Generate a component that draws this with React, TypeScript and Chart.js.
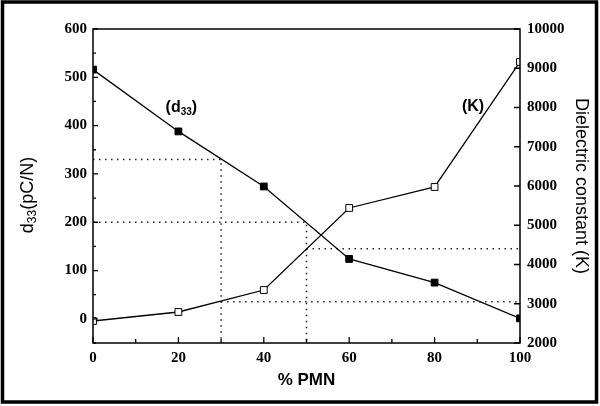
import { useEffect, useRef } from "react";
import { Chart, ChartConfiguration, Plugin, registerables } from "chart.js";

Chart.register(...registerables);

// % PMN composition
const pmn = [0, 20, 40, 60, 80, 100];
// d33 in pC/N (filled squares, left axis)
const d33 = [516, 388, 274, 124, 75, 1];
// dielectric constant K (open squares, right axis)
const dielectric = [2560, 2790, 3350, 5440, 5975, 9160];

// dotted read-off guides at 30 and 50 % PMN
const guidePmn = [30, 50];
const guideD33 = [330, 200];
const guideK = [3050, 4400];

const xTickLabels = [0, 20, 40, 60, 80, 100];
const leftTickLabels = [0, 100, 200, 300, 400, 500, 600];
const rightTickLabels = [2000, 3000, 4000, 5000, 6000, 7000, 8000, 9000, 10000];

const serif = "'Liberation Serif', 'Times New Roman', serif";
const sans = "'Liberation Sans', Arial, sans-serif";

type Part = { t: string; sub?: boolean };

function drawParts(
  ctx: CanvasRenderingContext2D,
  parts: Part[],
  font: string,
  subFont: string,
  drop: number
) {
  let w = 0;
  parts.forEach(p => {
    ctx.font = p.sub ? subFont : font;
    w += ctx.measureText(p.t).width;
  });
  let x = -w / 2;
  ctx.textAlign = "left";
  ctx.textBaseline = "middle";
  parts.forEach(p => {
    ctx.font = p.sub ? subFont : font;
    ctx.fillText(p.t, x, p.sub ? drop : 0);
    x += ctx.measureText(p.t).width;
  });
}

const framePlugin: Plugin = {
  id: "frame",
  afterDraw(chart) {
    const { ctx, chartArea: a, scales } = chart;
    const x = scales.x;
    const y = scales.y;
    const y1 = scales.y1;
    ctx.save();
    ctx.strokeStyle = "#000";
    ctx.fillStyle = "#000";

    // plot box
    ctx.lineWidth = 1.5;
    ctx.strokeRect(a.left, a.top, a.right - a.left, a.bottom - a.top);

    // inward tick marks
    ctx.lineWidth = 1.3;
    ctx.beginPath();
    y.ticks.forEach(t => {
      const py = y.getPixelForValue(t.value);
      const len = t.value % 100 === 0 ? 5 : 3;
      ctx.moveTo(a.left, py);
      ctx.lineTo(a.left + len, py);
    });
    y1.ticks.forEach(t => {
      const py = y1.getPixelForValue(t.value);
      ctx.moveTo(a.right, py);
      ctx.lineTo(a.right - 6, py);
    });
    x.ticks.forEach(t => {
      const px = x.getPixelForValue(t.value);
      const len = t.value % 20 === 0 ? 6 : 4;
      ctx.moveTo(px, a.bottom);
      ctx.lineTo(px, a.bottom - len);
    });
    ctx.stroke();

    // left axis title with subscript
    ctx.save();
    ctx.translate(28, (a.top + a.bottom) / 2 + 9);
    ctx.rotate(-Math.PI / 2);
    drawParts(
      ctx,
      [{ t: "d" }, { t: "33", sub: true }, { t: "(pC/N)" }],
      `18px ${sans}`,
      `12px ${sans}`,
      5
    );
    ctx.restore();

    // series labels
    ctx.save();
    ctx.translate(x.getPixelForValue(20.7), y.getPixelForValue(438));
    drawParts(
      ctx,
      [{ t: "(d" }, { t: "33", sub: true }, { t: ")" }],
      `bold 16px ${sans}`,
      `bold 10px ${sans}`,
      5
    );
    ctx.restore();

    ctx.save();
    ctx.translate(x.getPixelForValue(89), y.getPixelForValue(440));
    drawParts(ctx, [{ t: "(K)" }], `bold 16px ${sans}`, `bold 10px ${sans}`, 5);
    ctx.restore();

    // outer border
    ctx.lineWidth = 3.5;
    ctx.strokeRect(2.5, 2, 594, 400);
    ctx.restore();
  }
};

const dotted = {
  borderColor: "#222",
  borderWidth: 1.5,
  borderDash: [1.5, 4.5],
  pointRadius: 0,
  showLine: true,
  fill: false,
  tension: 0
};

export default function App() {
  const canvasRef = useRef<HTMLCanvasElement>(null);
  const chartRef = useRef<Chart | null>(null);

  useEffect(() => {
    if (!canvasRef.current) return;
    if (chartRef.current) chartRef.current.destroy();
    const ctx = canvasRef.current.getContext("2d");
    if (!ctx) return;

    const guideLeft = guidePmn.map((g, i) => ({
      ...dotted,
      label: `guide d33 ${g}`,
      yAxisID: "y",
      data: [
        { x: 0, y: guideD33[i] },
        { x: g, y: guideD33[i] },
        { x: g, y: -50 }
      ]
    }));
    const guideRight = guidePmn.map((g, i) => ({
      ...dotted,
      label: `guide K ${g}`,
      yAxisID: "y1",
      data: [
        { x: g, y: guideK[i] },
        { x: 100, y: guideK[i] }
      ]
    }));

    const config: ChartConfiguration = {
      type: "scatter",
      data: {
        datasets: [
          {
            label: "d33",
            yAxisID: "y",
            data: pmn.map((p, i) => ({ x: p, y: d33[i] })),
            showLine: true,
            borderColor: "#000",
            borderWidth: 1.3,
            pointStyle: "rect",
            pointRadius: 4.8,
            pointBackgroundColor: "#000",
            pointBorderColor: "#000",
            pointBorderWidth: 1
          },
          {
            label: "K",
            yAxisID: "y1",
            data: pmn.map((p, i) => ({ x: p, y: dielectric[i] })),
            showLine: true,
            borderColor: "#000",
            borderWidth: 1.3,
            pointStyle: "rect",
            pointRadius: 4.8,
            pointBackgroundColor: "#fff",
            pointBorderColor: "#000",
            pointBorderWidth: 1
          },
          ...guideLeft,
          ...guideRight
        ] as any
      },
      options: {
        animation: false,
        responsive: true,
        maintainAspectRatio: false,
        layout: { padding: { top: 29, left: 0, right: 0, bottom: 0 } },
        plugins: {
          legend: { display: false },
          tooltip: { enabled: false }
        },
        scales: {
          x: {
            type: "linear",
            min: 0,
            max: 100,
            grid: { display: false, drawTicks: false },
            border: { display: false },
            ticks: {
              stepSize: 10,
              autoSkip: false,
              maxRotation: 0,
              padding: 6,
              color: "#000",
              font: { family: serif, weight: "bold", size: 15 },
              callback: v => (xTickLabels.includes(Number(v)) ? String(v) : "")
            },
            title: {
              display: true,
              text: "% PMN",
              color: "#000",
              font: { family: sans, weight: "bold", size: 17 },
              padding: { top: 0, bottom: 15 }
            },
            afterFit: s => {
              s.height = 63;
            }
          },
          y: {
            type: "linear",
            position: "left",
            min: -50,
            max: 600,
            grid: { display: false, drawTicks: false },
            border: { display: false },
            ticks: {
              stepSize: 50,
              padding: 6,
              color: "#000",
              font: { family: serif, weight: "bold", size: 15 },
              callback: v => (leftTickLabels.includes(Number(v)) ? String(v) : "")
            },
            afterFit: s => {
              s.width = 93;
            }
          },
          y1: {
            type: "linear",
            position: "right",
            min: 2000,
            max: 10000,
            grid: { display: false, drawTicks: false },
            border: { display: false },
            ticks: {
              stepSize: 1000,
              padding: 7,
              color: "#000",
              font: { family: serif, weight: "bold", size: 15 },
              callback: v => (rightTickLabels.includes(Number(v)) ? String(v) : "")
            },
            title: {
              display: true,
              text: "Dielectric constant (K)",
              color: "#000",
              font: { family: sans, size: 18 },
              padding: { top: 8, bottom: 0 }
            },
            afterFit: s => {
              s.width = 80;
            }
          }
        }
      },
      plugins: [framePlugin]
    };

    chartRef.current = new Chart(ctx, config);

    return () => {
      if (chartRef.current) {
        chartRef.current.destroy();
        chartRef.current = null;
      }
    };
  }, []);

  return (
    <div
      style={{
        position: "fixed",
        left: 0,
        top: 0,
        width: 600,
        height: 406,
        background: "#fff"
      }}
    >
      <canvas ref={canvasRef} />
    </div>
  );
}
